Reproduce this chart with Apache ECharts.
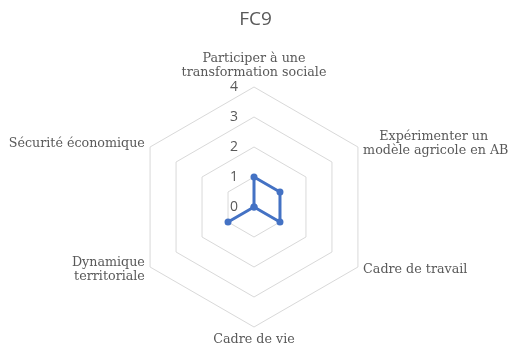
<!DOCTYPE html>
<html>
<head>
<meta charset="utf-8">
<script src="https://cdn.jsdelivr.net/npm/echarts@6/dist/echarts.min.js"></script>
<style>
  html, body { margin: 0; padding: 0; background: #fff; }
  #chart { width: 511px; height: 351px; }
</style>
</head>
<body>
<div id="chart"></div>
<script>
// axes listed counter-clockwise from the top, as the radar draws them
var axisNames = [
  'Participer à une\ntransformation sociale',
  'Sécurité économique',
  'Dynamique\nterritoriale',
  'Cadre de vie',
  'Cadre de travail',
  '    Expérimenter un\nmodèle agricole en AB'
];
var fc9Values = [1, 0, 1, 0, 1, 1];
var axisMax = 4;

var chart = echarts.init(document.getElementById('chart'));

var indicators = axisNames.map(function (n, i) {
  var ind = { name: n, max: axisMax, min: 0 };
  if (i === 0) ind.axisLabel = { show: true };
  return ind;
});

var option = {
  backgroundColor: '#fff',
  title: {
    text: 'FC9',
    left: 'center',
    top: 5,
    textStyle: { fontFamily: 'Open Sans', fontWeight: 'normal', fontSize: 19, color: '#595959' }
  },
  radar: {
    center: [254, 207],
    radius: 120,
    startAngle: 90,
    splitNumber: 4,
    shape: 'polygon',
    indicator: indicators,
    axisName: {
      color: '#595959',
      fontFamily: 'DejaVu Serif',
      fontSize: 12.7,
      lineHeight: 14
    },
    nameGap: 6,
    axisLine: { show: false },
    axisTick: { show: false },
    axisLabel: {
      show: false,
      color: '#595959',
      fontFamily: 'Open Sans',
      fontSize: 14,
      margin: 16
    },
    splitLine: { lineStyle: { color: '#d9d9d9', width: 1 } },
    splitArea: { show: false }
  },
  series: [{
    name: 'FC9',
    type: 'radar',
    symbol: 'circle',
    symbolSize: 7,
    lineStyle: { color: '#4472C4', width: 3 },
    itemStyle: { color: '#4472C4' },
    data: [{ value: fc9Values, name: 'FC9' }]
  }]
};

chart.setOption(option);
</script>
</body>
</html>
